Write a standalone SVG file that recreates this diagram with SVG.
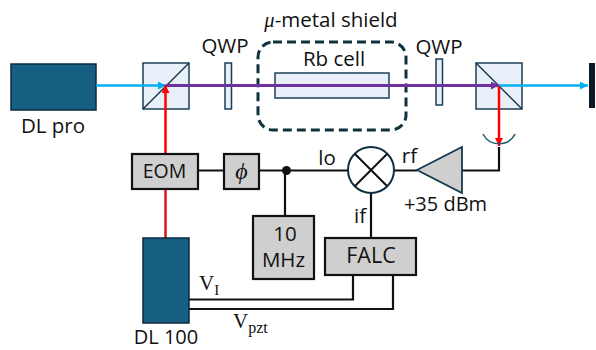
<svg xmlns="http://www.w3.org/2000/svg" width="596" height="350" viewBox="0 0 596 350">
<style>
text{font-family:"Open Sans","Noto Sans","Liberation Sans",sans-serif;font-size:20.500px;fill:#111;text-anchor:middle}
.math{font-family:"Liberation Serif",serif}
.laser{fill:#156082;stroke:#0e2841;stroke-width:1.500}
.glass{fill:#e8eff9;stroke:#1b3f55;stroke-width:1.500}
.box{fill:#cfcfcf;stroke:#111;stroke-width:2.200}
.w{fill:none;stroke:#111;stroke-width:2.200}
.dark{fill:none;stroke:#17394d;stroke-width:1.500}
</style>
<defs>
<marker id="ab" markerUnits="userSpaceOnUse" markerWidth="9" markerHeight="8" refX="8" refY="4" orient="auto"><path d="M0 0L8 4L0 8z" fill="#00b0f0"/></marker>
<marker id="ar" markerUnits="userSpaceOnUse" markerWidth="9" markerHeight="8" refX="8" refY="4" orient="auto"><path d="M0 0L8 4L0 8z" fill="#f00"/></marker>
<marker id="ap" markerUnits="userSpaceOnUse" markerWidth="9" markerHeight="8" refX="8" refY="4" orient="auto"><path d="M0 0L8 4L0 8z" fill="#7030a0"/></marker>
</defs>
<g id="shield"><rect x="258" y="42" width="148" height="88" rx="15" fill="none" stroke="#10303f" stroke-width="3" stroke-dasharray="9 5"/><text x="331" y="27"><tspan class="math" font-style="italic">μ</tspan>-metal shield</text></g>
<g id="dlpro"><rect class="laser" x="11" y="64" width="85" height="46"/><text x="53" y="133">DL pro</text></g>
<g id="bs1"><rect class="glass" x="143" y="63" width="46" height="46"/><path class="dark" d="M143 109L189 63"/></g>
<g id="qwp1"><rect class="glass" x="225" y="63" width="6.500" height="46"/><text x="225" y="53">QWP</text></g>
<g id="cell"><rect class="glass" x="275" y="73" width="114" height="25"/><text x="334" y="66">Rb cell</text></g>
<g id="qwp2"><rect class="glass" x="436" y="59" width="6.500" height="46"/><text x="439" y="54">QWP</text></g>
<g id="bs2"><rect class="glass" x="476" y="63" width="46" height="46"/><path class="dark" d="M476 63L522 109"/></g>
<g id="dump"><rect x="589" y="63" width="6" height="45" fill="#0a1a28"/></g>
<g id="connectors" fill="none">
<path d="M96 85.500H166" stroke="#00b0f0" stroke-width="2.500" marker-end="url(#ab)"/>
<path d="M498 85.500H588" stroke="#00b0f0" stroke-width="2.500" marker-end="url(#ab)"/>
<path d="M166 85.500H499" stroke="#7030a0" stroke-width="3" marker-end="url(#ap)"/>
<path d="M165.500 238V153" stroke="#d8141c" stroke-width="2.500"/>
<path d="M165.500 154V85" stroke="#f00" stroke-width="2.500" marker-end="url(#ar)"/>
<path d="M499 86V146" stroke="#f00" stroke-width="2.500" marker-end="url(#ar)"/>
<path class="w" d="M198 170.500H224M259 170.500H348M285 170.500V216M394 170.500H417M462 170.500H499V147M371 193V238M353 276V299.500H188M393 276V309H188"/>
<circle cx="286.500" cy="170.500" r="4.500" fill="#111"/>
</g>
<g id="detector"><path d="M483 134A18 18 0 0 0 515 134" fill="none" stroke="#1f5a75" stroke-width="1.500"/></g>
<g id="eom"><rect class="box" x="132" y="154" width="66" height="35"/><text x="164.500" y="178" style="font-size:19.500px">EOM</text></g>
<g id="phi"><rect class="box" x="224" y="154" width="35" height="35"/><text class="math" x="241.500" y="179" font-style="italic" style="font-size:24px">ϕ</text></g>
<g id="mixer"><circle cx="371" cy="170" r="23" fill="#fff" stroke="#10303f" stroke-width="2"/><path d="M355 154L387 186M387 154L355 186" stroke="#111" stroke-width="2" fill="none"/></g>
<g id="amp"><path d="M417 170L462 147V193Z" fill="#cfcfcf" stroke="#17394d" stroke-width="1.800"/><text x="445.500" y="211" style="font-size:20px">+35 dBm</text></g>
<g id="ref"><rect class="box" x="253" y="216" width="61" height="63"/><text x="285" y="241">10</text><text x="283.500" y="267">MHz</text></g>
<g id="falc"><rect class="box" x="325" y="238" width="91" height="37"/><text x="371" y="263" style="font-size:21.500px">FALC</text></g>
<g id="dl100"><rect class="laser" x="143" y="238" width="46" height="85"/><text x="166" y="343.500" style="font-size:20px">DL 100</text></g>
<g id="labels">
<text x="327" y="165">lo</text><text x="409.500" y="163">rf</text><text x="360" y="223">if</text>
<text class="math" x="199" y="290" style="font-size:21px;text-anchor:start">V<tspan style="font-size:15px" dy="5">I</tspan></text>
<text class="math" x="233" y="328" style="font-size:21px;text-anchor:start">V<tspan style="font-size:16px" dy="5">pzt</tspan></text>
</g>
</svg>
